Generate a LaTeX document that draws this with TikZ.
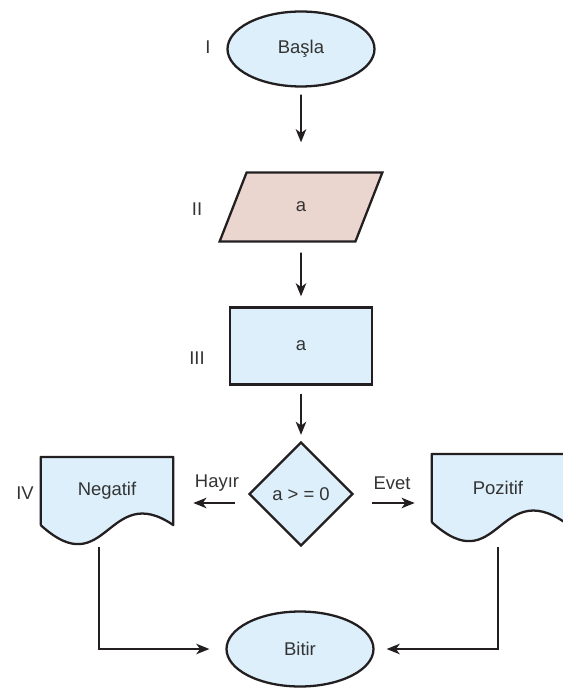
\documentclass[tikz,border=0pt]{standalone}
\usepackage{fontspec}
\setmainfont{Liberation Sans}
\usetikzlibrary{shapes.geometric, arrows.meta, backgrounds}
\definecolor{BoxBlue}{RGB}{220,239,250}
\definecolor{BoxRose}{RGB}{235,214,207}
\definecolor{LineGray}{RGB}{35,31,32}
\definecolor{TextGray}{RGB}{51,51,51}

% document symbol: box with a wavy bottom, drawn behind a named node
\newcommand{\docshape}[1]{%
  \begin{scope}[on background layer]
    \filldraw[fill=BoxBlue,draw=LineGray,line width=1.3pt,line join=round]
      (#1.south west) -- (#1.north west) -- (#1.north east) -- (#1.south east)
      .. controls +(-66,-45) and +(66,60) .. (#1.south west);
  \end{scope}}

\begin{document}
\begin{tikzpicture}[x=0.02cm,y=-0.02cm,
    font=\fontsize{10.5}{12}\selectfont, text=TextGray,
    term/.style={ellipse,draw=LineGray,fill=BoxBlue,line width=1.3pt,
                 minimum width=2.94cm,minimum height=1.5cm},
    io/.style={trapezium,trapezium left angle=76,trapezium right angle=104,
               trapezium stretches=true,draw=LineGray,fill=BoxRose,line width=1.3pt,
               minimum width=3.26cm,minimum height=1.38cm},
    proc/.style={rectangle,draw=LineGray,fill=BoxBlue,line width=1.3pt,
                 minimum width=2.84cm,minimum height=1.54cm},
    decision/.style={diamond,draw=LineGray,fill=BoxBlue,line width=1.3pt,
                     minimum width=2.08cm,minimum height=2.08cm,inner sep=1pt},
    docbox/.style={rectangle,minimum width=2.64cm,minimum height=1.35cm},
    arrow/.style={-{Stealth[length=7.5pt,width=6pt,inset=2.2pt]},line width=0.95pt,LineGray}]
    \useasboundingbox (0,0) rectangle (562,688);

    \node[term] (start) at (301,49) {Başla};
    \node[io] (input) at (301,207) {a};
    \node[proc] (calc) at (301,346) {a};
    \node[decision] (test) at (301,494) {a > = 0};
    \node[docbox] (neg) at (107,491) {Negatif};
    \node[docbox] (pos) at (498,488) {Pozitif};
    \node[term] (stop) at (300,649) {Bitir};
    \docshape{neg}
    \docshape{pos}

    % step numbers
    \node (n1) at (208,47) {I};
    \node (n2) at (197,209) {II};
    \node (n3) at (197,358) {III};
    \node (n4) at (25,493) {IV};

    \draw[arrow,shorten <=0.14cm,shorten >=0.58cm] (start) -- (input);
    \draw[arrow,shorten <=0.2cm,shorten >=0.2cm] (input) -- (calc);
    \draw[arrow,shorten <=0.16cm,shorten >=0.12cm] (calc) -- (test);

    % branches
    \coordinate (hy) at ([yshift=-0.18cm]test.west);
    \coordinate (ev) at ([yshift=-0.18cm]test.east);
    \draw[arrow,shorten <=0.26cm,shorten >=0.4cm] (hy) -- (hy -| neg.east);
    \draw[arrow,shorten <=0.36cm,shorten >=0.34cm] (ev) -- (ev -| pos.west);
    \node (no) at (217,483) {Hayır};
    \node (yes) at (392,483) {Evet};

    \coordinate (negout) at (99,547);
    \coordinate (posout) at (498,547);
    \draw[arrow,shorten >=0.32cm] (negout) |- (stop.west);
    \draw[arrow,shorten >=0.24cm] (posout) |- (stop.east);
\end{tikzpicture}
\end{document}
